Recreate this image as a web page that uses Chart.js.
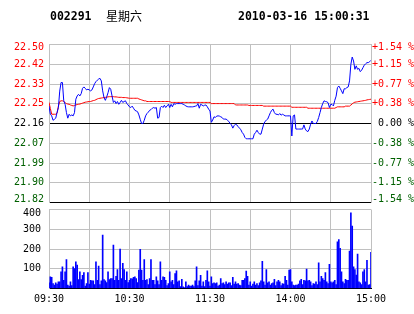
<!DOCTYPE html>
<html><head><meta charset="utf-8">
<script src="https://cdn.jsdelivr.net/npm/chart.js@4"></script>
<style>
html,body{margin:0;padding:0;background:#fff;}
#wrap{position:relative;width:414px;height:314px;overflow:hidden;background:#fff;}
canvas{position:absolute;left:0;top:0;}
.hd{position:absolute;top:9px;font-family:"DejaVu Sans Mono",monospace;font-weight:bold;font-size:11.5px;line-height:14px;color:#000;white-space:pre;}
.cn{position:absolute;top:9px;font-family:"Noto Sans CJK SC",sans-serif;font-size:12px;line-height:14px;color:#000;}
</style></head>
<body>
<div id="wrap">
<canvas id="c1" width="414" height="314"></canvas>
<canvas id="c2" width="414" height="314"></canvas>
<div class="hd" style="left:50px">002291</div>
<div class="cn" style="left:106px">星期六</div>
<div class="hd" style="left:238px">2010-03-16 15:00:31</div>
</div>
<script>
const prevClose = 22.16;
const priceLabels = ["22.50","22.42","22.33","22.25","22.16","22.07","21.99","21.90","21.82"];
const pctLabels = ["+1.54 %","+1.15 %","+0.77 %","+0.38 %"," 0.00 %","-0.38 %","-0.77 %","-1.15 %","-1.54 %"];
const volLabels = ["100","200","300","400"];
const timeLabels = ["09:30","10:30","11:30","14:00","15:00"];

const price = [
22.236,22.200,22.193,22.174,22.178,22.183,22.207,22.229,22.300,22.337,
22.337,22.258,22.243,22.207,22.183,22.200,22.193,22.197,22.193,22.207,
22.265,22.279,22.286,22.279,22.289,22.312,22.318,22.312,22.305,22.308,
22.305,22.301,22.305,22.318,22.332,22.341,22.347,22.352,22.355,22.344,
22.301,22.272,22.260,22.275,22.293,22.315,22.308,22.279,22.251,22.258,
22.246,22.255,22.243,22.251,22.260,22.251,22.255,22.258,22.246,22.240,
22.232,22.229,22.235,22.226,22.217,22.214,22.211,22.197,22.178,22.160,
22.160,22.174,22.193,22.203,22.209,22.217,22.220,22.226,22.229,22.226,
22.229,22.183,22.186,22.229,22.235,22.229,22.239,22.229,22.236,22.243,
22.229,22.243,22.232,22.246,22.243,22.246,22.246,22.246,22.246,22.246,
22.243,22.240,22.236,22.233,22.232,22.232,22.232,22.232,22.233,22.235,
22.236,22.246,22.226,22.243,22.240,22.236,22.239,22.240,22.232,22.222,
22.214,
22.165,22.175,22.189,22.186,22.192,22.193,22.192,22.189,22.186,
22.179,22.179,22.179,22.174,22.169,22.160,22.154,22.140,22.151,22.157,
22.154,22.146,22.140,22.133,22.121,22.114,22.100,22.094,22.094,22.094,
22.094,22.094,22.094,22.114,22.121,22.131,22.121,22.114,22.114,22.136,
22.157,22.169,22.174,22.179,22.193,22.207,22.217,22.222,22.207,22.200,
22.200,22.197,22.203,22.196,22.200,22.197,22.193,22.193,22.193,22.193,
22.193,22.106,22.193,22.197,22.136,22.136,22.136,22.136,22.136,22.136,
22.154,22.136,22.128,22.125,22.136,22.157,22.171,22.160,22.160,22.160,
22.169,22.186,22.207,22.229,22.246,22.258,22.255,22.254,22.250,22.229,
22.243,22.242,22.236,22.260,22.278,22.315,22.322,22.312,22.301,22.289,
22.310,22.310,22.315,22.318,22.344,22.416,22.447,22.430,22.394,22.409,
22.394,22.398,22.384,22.390,22.401,22.412,22.418,22.423,22.423,22.427,
22.433];

const avgPrice = [
22.251,22.225,22.200,22.200,22.200,22.200,22.205,22.235,22.255,22.258,
22.258,22.255,22.250,22.246,22.244,22.243,22.240,22.238,22.236,22.238,
22.240,22.242,22.243,22.244,22.246,22.248,22.250,22.252,22.253,22.254,
22.255,22.255,22.257,22.259,22.260,22.263,22.266,22.268,22.269,22.270,
22.271,22.272,22.273,22.274,22.275,22.276,22.276,22.276,22.276,22.275,
22.275,22.274,22.273,22.273,22.273,22.272,22.272,22.272,22.271,22.270,
22.269,22.269,22.269,22.269,22.269,22.269,22.269,22.266,22.264,22.262,
22.260,22.258,22.258,22.255,22.255,22.255,22.255,22.255,22.255,22.255,
22.255,22.255,22.255,22.255,22.255,22.255,22.255,22.255,22.255,22.255,
22.255,22.251,22.251,22.251,22.251,22.251,22.251,22.251,22.251,22.251,
22.251,22.251,22.251,22.251,22.251,22.251,22.251,22.251,22.251,22.251,
22.251,22.251,22.251,22.251,22.251,22.251,22.251,22.251,22.251,22.251,
22.251,
22.246,22.246,22.246,22.246,22.246,22.246,22.246,22.246,22.246,
22.246,22.246,22.246,22.246,22.246,22.246,22.246,22.246,22.246,22.240,
22.240,22.240,22.240,22.240,22.240,22.240,22.240,22.240,22.240,22.238,
22.238,22.238,22.238,22.238,22.238,22.238,22.238,22.238,22.238,22.238,
22.235,22.235,22.235,22.235,22.235,22.235,22.235,22.235,22.235,22.235,
22.235,22.235,22.235,22.235,22.235,22.235,22.235,22.235,22.235,22.235,
22.235,22.230,22.230,22.230,22.230,22.230,22.230,22.230,22.230,22.230,
22.230,22.230,22.230,22.226,22.226,22.226,22.226,22.226,22.226,22.226,
22.226,22.226,22.226,22.226,22.226,22.226,22.226,22.226,22.226,22.226,
22.226,22.226,22.226,22.226,22.229,22.232,22.232,22.232,22.232,22.232,
22.232,22.235,22.235,22.235,22.235,22.240,22.244,22.250,22.252,22.253,
22.254,22.255,22.256,22.257,22.258,22.259,22.260,22.262,22.263,22.264,
22.265];

const volume = [
29,59,56,25,17,29,22,34,34,84,
110,42,84,147,17,12,34,15,110,101,
135,118,45,84,45,67,80,12,25,80,
22,42,39,39,20,135,42,113,20,39,
270,45,39,30,84,45,50,50,220,42,
62,96,42,200,50,127,96,42,84,30,
42,50,49,56,59,50,30,93,198,93,
42,147,42,45,20,50,147,42,42,20,
59,39,20,135,42,59,56,42,15,25,
84,34,42,20,76,90,34,39,10,47,
8,5,34,10,17,12,12,17,10,39,
110,15,39,67,12,34,10,42,90,34,
12,
59,25,29,25,29,12,17,50,25,
29,20,34,22,29,29,15,56,22,34,
22,25,17,15,42,42,50,88,62,17,
34,12,22,34,17,25,15,29,39,138,
34,17,96,29,34,17,25,29,46,15,
34,42,34,15,25,22,62,42,17,93,
96,34,17,15,17,17,22,39,46,20,
42,39,98,39,42,34,15,25,22,34,
20,130,34,62,50,42,80,34,25,123,
34,29,34,42,20,236,248,203,84,34,
25,46,42,42,189,383,316,110,96,68,
174,34,29,20,84,96,34,143,17,20,
183];

const hi = prevClose * 1.0154, lo = prevClose * 0.9846;
const step = (hi - prevClose) / 4;
const priceTicks = [];
for (let k = -4; k <= 4; k++) priceTicks.push(prevClose + k * step);
const labelColor = (i) => i > 4 ? '#ff0000' : (i === 4 ? '#000000' : '#006000');
const monoFont = {family: 'DejaVu Sans Mono', size: 10};
const edgeFont = {family: 'DejaVu Sans Mono', size: 10, lineHeight: 0.6};
const edgeFontV = {family: 'DejaVu Sans Mono', size: 10, lineHeight: 0.7};
// keep the outermost labels inside the plot band, as in the reference
const inset = (txt, i, last) => i === last ? ['', txt] : (i === 0 ? [txt, ''] : txt);

new Chart(document.getElementById('c1'), {
  type: 'line',
  data: {datasets: [
    {data: price.map((v, i) => ({x: i, y: v})), borderColor: '#0000ff', borderWidth: 1, pointRadius: 0, tension: 0},
    {data: avgPrice.map((v, i) => ({x: i, y: v})), borderColor: '#ff0000', borderWidth: 1, pointRadius: 0, tension: 0}
  ]},
  options: {
    responsive: false, animation: false, events: [],
    plugins: {legend: {display: false}, tooltip: {enabled: false}},
    layout: {padding: {top: 44.5, bottom: 111.5, left: 0, right: 0}},
    scales: {
      x: {type: 'linear', min: 0, max: 240,
          afterBuildTicks: s => { s.ticks = [0,30,60,90,120,150,180,210,240].map(v => ({value: v})); },
          ticks: {display: false},
          grid: {color: '#c0c0c0', drawTicks: false},
          border: {display: true, color: '#000000'},
          afterFit: s => { s.height = 0; }},
      y: {position: 'left', min: lo, max: hi,
          afterBuildTicks: s => { s.ticks = priceTicks.map(v => ({value: v})); },
          ticks: {callback: (v, i) => inset(priceLabels[8 - i], i, 8), color: c => labelColor(c.index),
                  font: c => (c.index === 0 || c.index === 8) ? edgeFont : monoFont, padding: 5},
          grid: {color: c => (c.index === 4 || c.index === 0) ? '#000000' : '#c0c0c0', drawTicks: false},
          border: {color: '#c0c0c0'},
          afterFit: s => { s.width = 49; }},
      y2: {position: 'right', min: lo, max: hi,
          afterBuildTicks: s => { s.ticks = priceTicks.map(v => ({value: v})); },
          ticks: {callback: (v, i) => inset(pctLabels[8 - i], i, 8), color: c => labelColor(c.index),
                  font: c => (c.index === 0 || c.index === 8) ? edgeFont : monoFont, padding: 1},
          grid: {display: false, drawTicks: false},
          border: {color: '#c0c0c0'},
          afterFit: s => { s.width = 43; }}
    }
  }
});

new Chart(document.getElementById('c2'), {
  type: 'bar',
  data: {datasets: [
    {data: volume.map((v, i) => ({x: i, y: v})), backgroundColor: '#0000ff', borderWidth: 0, barThickness: 1}
  ]},
  options: {
    responsive: false, animation: false, events: [],
    plugins: {legend: {display: false}, tooltip: {enabled: false}},
    layout: {padding: {top: 209.5, bottom: 0, left: 0, right: 43}},
    scales: {
      x: {type: 'linear', min: 0, max: 240, offset: false,
          afterBuildTicks: s => { s.ticks = [0,30,60,90,120,150,180,210,240].map(v => ({value: v})); },
          ticks: {callback: (v, i) => (i % 2 === 0 ? timeLabels[i / 2] : ''), color: '#000', font: monoFont, padding: 4.5, maxRotation: 0, autoSkip: false},
          grid: {color: '#c0c0c0', drawTicks: false, offset: false},
          border: {display: true, color: '#000000'},
          afterFit: s => { s.height = 25.5; }},
      y: {position: 'left', min: 0, max: 400,
          afterBuildTicks: s => { s.ticks = [0,100,200,300,400].map(v => ({value: v})); },
          ticks: {callback: (v, i) => (i === 0 ? '' : (i === 4 ? ['', volLabels[3]] : volLabels[i - 1])), color: '#000',
                  font: c => c.index === 4 ? edgeFontV : monoFont, padding: 8},
          grid: {color: c => c.index === 0 ? '#000000' : '#c0c0c0', drawTicks: false},
          border: {color: '#c0c0c0'},
          afterFit: s => { s.width = 49; }}
    }
  }
});
</script>
</body></html>
